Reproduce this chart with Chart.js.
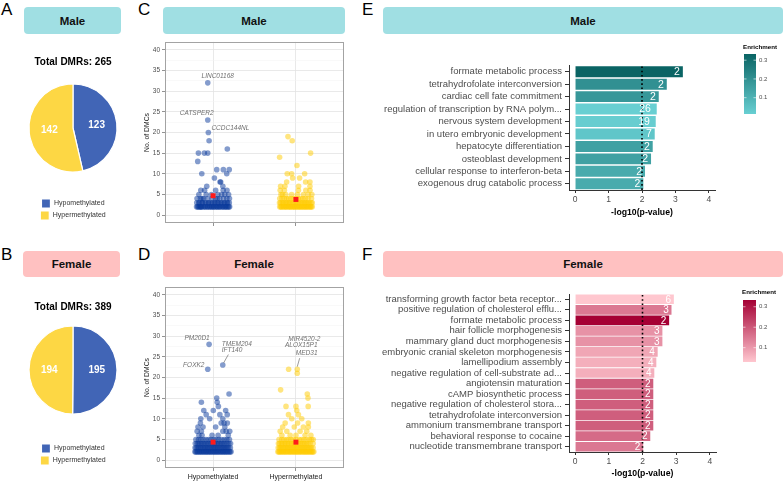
<!DOCTYPE html>
<html><head><meta charset="utf-8">
<script src="https://cdn.jsdelivr.net/npm/chart.js@4.4.0/dist/chart.umd.min.js"></script>
<style>
html,body{margin:0;padding:0;background:#fff;}
#root{position:relative;width:784px;height:483px;overflow:hidden;font-family:"Liberation Sans",Arial,sans-serif;}
.box{position:absolute;}
.letter{position:absolute;font-size:17px;color:#000;line-height:1;}
.hdr{position:absolute;border-radius:4px;display:flex;align-items:center;justify-content:center;font-weight:bold;font-size:11.5px;color:#111;}
.male{background:#A0DFE3;} .female{background:#FFC1C1;}
canvas{display:block;}
</style></head><body><div id="root">
<div class="letter" style="left:1px;top:1px">A</div>
<div class="letter" style="left:1px;top:246px">B</div>
<div class="letter" style="left:138px;top:1px">C</div>
<div class="letter" style="left:138px;top:246px">D</div>
<div class="letter" style="left:362px;top:1px">E</div>
<div class="letter" style="left:362px;top:246px">F</div>
<div class="hdr male" style="left:24px;top:7px;width:97px;height:27px">Male</div>
<div class="hdr female" style="left:23px;top:251px;width:97px;height:26px">Female</div>
<div class="hdr male" style="left:163px;top:7px;width:182px;height:27px">Male</div>
<div class="hdr female" style="left:163px;top:251px;width:182px;height:26px">Female</div>
<div class="hdr male" style="left:383px;top:7px;width:400px;height:27px">Male</div>
<div class="hdr female" style="left:383px;top:251px;width:400px;height:26px">Female</div>
<div class="box" style="left:23px;top:44px"><canvas id="pieA" width="100" height="186"></canvas></div>
<div class="box" style="left:23px;top:289px"><canvas id="pieB" width="100" height="186"></canvas></div>
<div class="box" style="left:140px;top:36px"><canvas id="scatC" width="210" height="200"></canvas></div>
<div class="box" style="left:140px;top:281px"><canvas id="scatD" width="210" height="200"></canvas></div>
<div class="box" style="left:370px;top:40px"><canvas id="barE" width="414" height="183"></canvas></div>
<div class="box" style="left:370px;top:268px"><canvas id="barF" width="414" height="215"></canvas></div>
</div>
<script>
// ---------------- DATA ----------------
const methylGroups = ['Hypomethylated', 'Hypermethylated'];
const maleDMRs = [123, 142];
const femaleDMRs = [195, 194];

// [horizontal jitter, No. of DMCs]
const maleHypoPoints = [[-0.064,32],[-0.064,23],[-0.057,20],[-0.048,18],[0.172,16],[-0.177,15],[-0.105,15],[-0.064,15],[-0.185,13],
 [0.044,11],[0.124,11],[0.195,11],[-0.136,10],[0.165,10],[0.016,9],[0.084,8],[0.092,8],[-0.076,7],[0.118,7],
 [-0.102,6],[0.031,6],[0.122,6],[0.168,6],[-0.148,6],
 [-0.171,5],[-0.083,5],[-0.019,5],[0.058,5],[0.103,5],[0.187,5],[0.141,5],
 [-0.193,4],[-0.152,4],[-0.114,4],[-0.063,4],[-0.012,4],[0.029,4],[0.081,4],[0.127,4],[0.166,4],[0.198,4],[-0.131,4],[0.052,4],
 [-0.197,3],[-0.172,3],[-0.165,3],[-0.134,3],[-0.127,3],[-0.098,3],[-0.086,3],[-0.057,3],[-0.049,3],[-0.022,3],[-0.006,3],[0.019,3],[0.027,3],[0.055,3],[0.064,3],[0.093,3],[0.101,3],[0.131,3],[0.139,3],[0.167,3],[0.176,3],[0.196,3],
 [-0.199,2],[-0.186,2],[-0.175,2],[-0.161,2],[-0.143,2],[-0.138,2],[-0.119,2],[-0.101,2],[-0.094,2],[-0.071,2],[-0.066,2],[-0.044,2],[-0.037,2],[-0.018,2],[-0.011,2],[0.006,2],[0.014,2],[0.032,2],[0.047,2],[0.053,2],[0.074,2],[0.079,2],[0.096,2],[0.115,2],[0.121,2],[0.142,2],[0.149,2],[0.163,2],[0.177,2],[0.189,2],[0.2,2],[-0.152,2]];
const maleHyperPoints = [[-0.096,19],[-0.045,18],[0.177,15],[-0.197,14],[0.012,12],[-0.105,10],[-0.052,10],[0.105,10],[-0.04,9],[0.044,9],
 [-0.112,8],[0.117,8],[0.169,8],[-0.185,7],[-0.133,7],[0.032,7],[0.169,7],[-0.19,6],[-0.14,6],[0.03,6],[0.12,6],[0.17,6],
 [-0.181,5],[-0.123,5],[-0.052,5],[0.018,5],[0.091,5],[0.148,5],[0.192,5],[-0.162,5],
 [-0.195,4],[-0.168,4],[-0.141,4],[-0.112,4],[-0.087,4],[-0.058,4],[-0.031,4],[-0.004,4],[0.027,4],[0.056,4],[0.083,4],[0.114,4],[0.146,4],[0.188,4],
 [-0.198,3],[-0.184,3],[-0.163,3],[-0.152,3],[-0.129,3],[-0.118,3],[-0.096,3],[-0.081,3],[-0.068,3],[-0.043,3],[-0.031,3],[-0.009,3],[0.004,3],[0.026,3],[0.038,3],[0.061,3],[0.073,3],[0.097,3],[0.108,3],[0.127,3],[0.144,3],[0.161,3],[0.183,3],[0.197,3],
 [-0.196,2],[-0.181,2],[-0.177,2],[-0.158,2],[-0.149,2],[-0.133,2],[-0.12,2],[-0.117,2],[-0.094,2],[-0.088,2],[-0.071,2],[-0.066,2],[-0.049,2],[-0.038,2],[-0.024,2],[-0.019,2],[-0.003,2],[0.011,2],[0.018,2],[0.036,2],[0.042,2],[0.055,2],[0.069,2],[0.077,2],[0.092,2],[0.104,2],[0.113,2],[0.128,2],[0.137,2],[0.151,2],[0.163,2],[0.176,2],[0.184,2],[0.197,2]];
const femaleHypoPoints = [[-0.048,28],[0.117,23],[-0.064,22],[0.193,16],[0.044,15],[-0.141,14],[0.05,14],[0.064,13],[-0.112,12],[0.003,12],[0.152,12],
 [-0.083,11],[0.082,11],[0.171,11],[-0.148,10],[-0.041,10],[0.118,10],[-0.153,9],[0.098,9],[0.172,9],[0.133,9],
 [-0.182,8],[-0.121,8],[0.031,8],[0.142,8],[-0.192,7],[-0.141,7],[0.118,7],[0.158,7],[0.201,7],[-0.133,6],[-0.012,6],[0.061,6],[0.183,6],[-0.171,6],
 [-0.207,5],[-0.176,5],[-0.149,5],[-0.118,5],[-0.087,5],[-0.054,5],[-0.027,5],[0.009,5],[0.036,5],[0.071,5],[0.102,5],[0.137,5],[0.166,5],[0.198,5],
 [-0.214,4],[-0.193,4],[-0.177,4],[-0.158,4],[-0.139,4],[-0.121,4],[-0.103,4],[-0.082,4],[-0.064,4],[-0.046,4],[-0.023,4],[-0.007,4],[0.014,4],[0.033,4],[0.052,4],[0.069,4],[0.091,4],[0.108,4],[0.127,4],[0.146,4],[0.168,4],[0.189,4],[0.211,4],
 [-0.217,3],[-0.203,3],[-0.184,3],[-0.172,3],[-0.151,3],[-0.143,3],[-0.121,3],[-0.107,3],[-0.094,3],[-0.076,3],[-0.063,3],[-0.045,3],[-0.032,3],[-0.014,3],[0.002,3],[0.019,3],[0.029,3],[0.049,3],[0.06,3],[0.081,3],[0.093,3],[0.112,3],[0.124,3],[0.143,3],[0.155,3],[0.174,3],[0.188,3],[0.209,3],
 [-0.219,2],[-0.208,2],[-0.194,2],[-0.185,2],[-0.169,2],[-0.16,2],[-0.145,2],[-0.136,2],[-0.119,2],[-0.111,2],[-0.095,2],[-0.083,2],[-0.074,2],[-0.057,2],[-0.049,2],[-0.033,2],[-0.024,2],[-0.008,2],[0.004,2],[0.015,2],[0.03,2],[0.039,2],[0.055,2],[0.064,2],[0.079,2],[0.092,2],[0.103,2],[0.118,2],[0.128,2],[0.143,2],[0.152,2],[0.168,2],[0.177,2],[0.193,2],[0.205,2],[0.217,2]];
const femaleHyperPoints = [[-0.088,22],[0.016,22],[0.016,21],[-0.185,17],[0.137,16],[0.145,15],[-0.12,13],[0.0,13],[0.148,13],[0.01,12],[-0.09,11],[0.03,11],[-0.05,10],[0.07,10],[-0.13,9],[0.02,9],[0.15,9],[-0.16,8],[-0.02,8],[0.09,8],[0.15,8],[-0.19,7],[-0.11,7],[0.05,7],[0.13,7],[-0.17,6],[-0.07,6],[0.0,6],[0.11,6],[0.18,6],
 [-0.204,5],[-0.171,5],[-0.146,5],[-0.113,5],[-0.091,5],[-0.058,5],[-0.031,5],[0.004,5],[0.041,5],[0.066,5],[0.098,5],[0.129,5],[0.162,5],[0.189,5],[0.209,5],
 [-0.211,4],[-0.196,4],[-0.174,4],[-0.161,4],[-0.137,4],[-0.124,4],[-0.101,4],[-0.087,4],[-0.062,4],[-0.049,4],[-0.026,4],[-0.009,4],[0.011,4],[0.029,4],[0.048,4],[0.072,4],[0.089,4],[0.106,4],[0.131,4],[0.149,4],[0.171,4],[0.208,4],
 [-0.214,3],[-0.199,3],[-0.186,3],[-0.168,3],[-0.155,3],[-0.139,3],[-0.126,3],[-0.104,3],[-0.097,3],[-0.078,3],[-0.066,3],[-0.044,3],[-0.035,3],[-0.017,3],[-0.002,3],[0.014,3],[0.027,3],[0.046,3],[0.058,3],[0.077,3],[0.091,3],[0.109,3],[0.122,3],[0.139,3],[0.154,3],[0.173,3],[0.186,3],[0.207,3],
 [-0.218,2],[-0.206,2],[-0.197,2],[-0.182,2],[-0.173,2],[-0.157,2],[-0.148,2],[-0.133,2],[-0.122,2],[-0.108,2],[-0.096,2],[-0.081,2],[-0.071,2],[-0.058,2],[-0.046,2],[-0.031,2],[-0.021,2],[-0.007,2],[0.005,2],[0.017,2],[0.028,2],[0.043,2],[0.052,2],[0.067,2],[0.081,2],[0.093,2],[0.106,2],[0.117,2],[0.131,2],[0.142,2],[0.156,2],[0.167,2],[0.181,2],[0.193,2],[0.204,2],[0.216,2]];
const maleMeans = [4.7, 3.8];
const femaleMeans = [4.35, 4.35];
const dmcTicks = [0, 5, 10, 15, 20, 25, 30, 35, 40];
const dmcMinorTicks = [2.5, 7.5, 12.5, 17.5, 22.5, 27.5, 32.5, 37.5];

const maleTerms = ['formate metabolic process','tetrahydrofolate interconversion','cardiac cell fate commitment','regulation of transcription by RNA polym...','nervous system development','in utero embryonic development','hepatocyte differentiation','osteoblast development','cellular response to interferon-beta','exogenous drug catabolic process'];
const maleLogP = [3.22, 2.74, 2.50, 2.44, 2.41, 2.38, 2.32, 2.27, 2.09, 2.04];
const maleGeneCounts = [2, 2, 2, 26, 19, 7, 2, 2, 2, 2];
const maleEnrichment = [0.333, 0.2, 0.18, 0.013, 0.018, 0.04, 0.15, 0.15, 0.12, 0.12];

const femaleTerms = ['transforming growth factor beta receptor...','positive regulation of cholesterol efflu...','formate metabolic process','hair follicle morphogenesis','mammary gland duct morphogenesis','embryonic cranial skeleton morphogenesis','lamellipodium assembly','negative regulation of cell-substrate ad...','angiotensin maturation','cAMP biosynthetic process','negative regulation of cholesterol stora...','tetrahydrofolate interconversion','ammonium transmembrane transport','behavioral response to cocaine','nucleotide transmembrane transport'];
const femaleLogP = [2.93, 2.86, 2.79, 2.59, 2.59, 2.45, 2.41, 2.35, 2.32, 2.32, 2.32, 2.32, 2.32, 2.23, 2.02];
const femaleGeneCounts = [6, 3, 2, 3, 3, 4, 4, 4, 2, 2, 2, 2, 2, 2, 2];
const femaleEnrichment = [0.03, 0.15, 0.333, 0.11, 0.11, 0.08, 0.067, 0.067, 0.19, 0.19, 0.19, 0.19, 0.19, 0.17, 0.15];

const logPTicks = [0, 1, 2, 3, 4];
const enrichTicks = [0.1, 0.2, 0.3];
const significanceLine = 2;

// ---------------- STYLE / HELPERS ----------------
const FONT = '"Liberation Sans", Arial, sans-serif';
Chart.defaults.font.family = FONT;
const BLUE = '#4165B6', YELLOW = '#FDD744';

function hexToRgb(h){h=h.replace('#','');return [0,2,4].map(i=>parseInt(h.substr(i,2),16));}
function mix(lo, hi, t){t=Math.max(0,Math.min(1,t));const a=hexToRgb(lo),b=hexToRgb(hi);return 'rgb('+a.map((v,i)=>Math.round(v+(b[i]-v)*t)).join(',')+')';}

const sliceLabels = {
  id:'sliceLabels',
  afterDatasetsDraw(chart){
    const ctx=chart.ctx, meta=chart.getDatasetMeta(0), ds=chart.data.datasets[0];
    ctx.save(); ctx.font='bold 10px '+FONT; ctx.fillStyle='#fff'; ctx.textAlign='center'; ctx.textBaseline='middle';
    meta.data.forEach((arc,i)=>{
      const a=(arc.startAngle+arc.endAngle)/2, r=arc.outerRadius*0.54;
      ctx.fillText(String(ds.data[i]), arc.x+Math.cos(a)*r, arc.y+Math.sin(a)*r);
    });
    ctx.restore();
  }
};

function pieChart(id, values, spacer){
  const total = values.reduce((s,v)=>s+v,0);
  new Chart(document.getElementById(id), {
    type:'pie',
    data:{labels:methylGroups, datasets:[{data:values, backgroundColor:[BLUE,YELLOW], borderColor:'#fff', borderWidth:1.2, radius:44}]},
    options:{responsive:false, animation:false,
      plugins:{
        title:{display:true, text:'Total DMRs: '+total, color:'#000', font:{size:10, weight:'bold'}, padding:{top:12,bottom:0}},
        legend:{position:'bottom', align:'center', title:{display:true, text:' ', font:{size:1}, padding:spacer},
          labels:{boxWidth:9, boxHeight:9, padding:3, color:'#333', font:{size:7}}},
        tooltip:{enabled:false}
      }},
    plugins:[sliceLabels]
  });
}

const framePlugin = {
  id:'frame',
  afterDatasetsDraw(chart){
    const a=chart.chartArea, ctx=chart.ctx;
    ctx.save(); ctx.strokeStyle='#A3A3A3'; ctx.lineWidth=1;
    ctx.strokeRect(Math.round(a.left)+0.5, Math.round(a.top)+0.5, Math.round(a.right-a.left)-1, Math.round(a.bottom-a.top)-1);
    ctx.restore();
  }
};
const geneLabels = {
  id:'geneLabels',
  afterDatasetsDraw(chart, args, opts){
    const ctx=chart.ctx;
    ctx.save(); ctx.font='italic 6.5px '+FONT; ctx.fillStyle='#707070'; ctx.strokeStyle='#707070'; ctx.lineWidth=0.7; ctx.textBaseline='middle';
    (opts.items||[]).forEach(it=>{
      const p=chart.getDatasetMeta(it.ds).data[it.idx];
      ctx.textAlign=it.align||'center';
      ctx.fillText(it.text, p.x+it.dx, p.y+it.dy);
      if(it.line){ctx.beginPath();ctx.moveTo(p.x+it.line[0],p.y+it.line[1]);ctx.lineTo(p.x+it.line[2],p.y+it.line[3]);ctx.stroke();}
    });
    ctx.restore();
  }
};
const isMajor = c => c.tick && dmcTicks.includes(c.tick.value);

function scatterChart(id, hypo, hyper, means, showX, labels){
  const toXY=(pts,cat)=>pts.map(p=>({x:cat+p[0], y:p[1]}));
  new Chart(document.getElementById(id), {
    type:'scatter',
    data:{datasets:[
      {data:toXY(hypo,1), backgroundColor:'rgba(10,58,155,0.5)', borderWidth:0, pointRadius:2.8, order:2},
      {data:toXY(hyper,2), backgroundColor:'rgba(255,204,0,0.5)', borderWidth:0, pointRadius:2.8, order:1},
      {data:means.map((m,i)=>({x:i+1,y:m})), pointStyle:'rect', backgroundColor:'#FF1A1A', borderWidth:0, pointRadius:3.5, order:0}
    ]},
    options:{responsive:false, animation:false,
      layout:{padding:{top:3,right:6,left:0,bottom:0}},
      plugins:{legend:{display:false}, tooltip:{enabled:false}, geneLabels:{items:labels}},
      scales:{
        x:{type:'linear', min:0.42, max:2.58,
          afterBuildTicks:ax=>{ax.ticks=[1,2].map(v=>({value:v}));},
          afterFit:s=>{s.height=13;},
          ticks:{autoSkip:false, maxRotation:0, padding:1.8, font:{size:7}, color:'#1A1A1A', callback:v=>showX?methylGroups[v-1]:''},
          grid:{color:'#E3E3E3', lineWidth:0.8, tickLength:3, tickColor:'#777'},
          border:{display:false}},
        y:{type:'linear', min:-1.9, max:41.9,
          afterBuildTicks:ax=>{ax.ticks=dmcTicks.concat(dmcMinorTicks).sort((a,b)=>a-b).map(v=>({value:v}));},
          afterFit:s=>{s.width=25;},
          ticks:{autoSkip:false, padding:2, font:{size:6.5}, color:'#4D4D4D', callback:v=>dmcTicks.includes(v)?String(v):''},
          grid:{color:c=>isMajor(c)?'#E3E3E3':'#F2F2F2', lineWidth:c=>isMajor(c)?0.8:0.5, tickLength:3, tickColor:c=>isMajor(c)?'#777':'rgba(0,0,0,0)'},
          border:{display:false},
          title:{display:true, text:'No. of DMCs', color:'#1A1A1A', font:{size:6.8}, padding:{top:3,bottom:0}}}
      }},
    plugins:[framePlugin, geneLabels]
  });
}

const sigLinePlugin = {
  id:'sigLine',
  afterDatasetsDraw(chart){
    const a=chart.chartArea, ctx=chart.ctx, x=chart.scales.x.getPixelForValue(significanceLine);
    ctx.save(); ctx.strokeStyle='#000'; ctx.lineWidth=1.6; ctx.setLineDash([1.6,2.6]);
    ctx.beginPath(); ctx.moveTo(x,a.top+1); ctx.lineTo(x,a.bottom); ctx.stroke(); ctx.restore();
  }
};
const barValues = {
  id:'barValues',
  afterDatasetsDraw(chart, args, opts){
    const ctx=chart.ctx, meta=chart.getDatasetMeta(0);
    ctx.save(); ctx.font=opts.size+'px '+FONT; ctx.fillStyle='#fff'; ctx.textAlign='center'; ctx.textBaseline='middle';
    meta.data.forEach((bar,i)=>{const t=String(opts.counts[i]); const w=ctx.measureText(t).width; ctx.fillText(t, bar.x-w, bar.y+0.5);});
    ctx.restore();
  }
};
const colorBar = {
  id:'colorBar',
  afterDraw(chart, args, o){
    const ctx=chart.ctx;
    const vmin=Math.min(...o.values), vmax=Math.max(...o.values);
    const g=ctx.createLinearGradient(0,o.y+o.h,0,o.y);
    for(let k=0;k<=10;k++) g.addColorStop(k/10, mix(o.low,o.high,k/10));
    ctx.save();
    ctx.fillStyle=g; ctx.fillRect(o.x,o.y,o.w,o.h);
    ctx.font='bold 6.2px '+FONT; ctx.fillStyle='#000'; ctx.textAlign='left'; ctx.textBaseline='alphabetic';
    ctx.fillText('Enrichment', o.x-1, o.y+o.titleDy);
    ctx.font='6px '+FONT; ctx.fillStyle='#4D4D4D'; ctx.textBaseline='middle';
    ctx.strokeStyle='#fff'; ctx.lineWidth=0.6;
    enrichTicks.forEach(v=>{
      const y=o.y+o.h*(vmax-v)/(vmax-vmin);
      ctx.beginPath(); ctx.moveTo(o.x,y); ctx.lineTo(o.x+2.5,y); ctx.moveTo(o.x+o.w-2.5,y); ctx.lineTo(o.x+o.w,y); ctx.stroke();
      ctx.fillText(String(v), o.x+o.w+3, y);
    });
    ctx.restore();
  }
};

function barChart(id, terms, logp, counts, enrich, low, high, cfg){
  const vmin=Math.min(...enrich), vmax=Math.max(...enrich);
  const colors=enrich.map(e=>mix(low,high,(e-vmin)/(vmax-vmin)));
  new Chart(document.getElementById(id), {
    type:'bar',
    data:{labels:terms, datasets:[{data:logp, backgroundColor:colors, borderWidth:0, categoryPercentage:cfg.cp, barPercentage:1}]},
    options:{indexAxis:'y', responsive:false, animation:false,
      layout:{padding:{top:cfg.padTop, right:cfg.padRight, left:0, bottom:0}},
      plugins:{legend:{display:false}, tooltip:{enabled:false},
        barValues:{counts:counts, size:cfg.labelSize},
        colorBar:Object.assign({values:enrich, low:low, high:high}, cfg.bar)},
      scales:{
        x:{type:'linear', min:-0.18, max:4.18,
          afterBuildTicks:ax=>{ax.ticks=logPTicks.map(v=>({value:v}));},
          afterFit:s=>{s.height=cfg.xH;},
          ticks:{font:{size:8.5}, color:'#4D4D4D', padding:cfg.xTickPad},
          grid:{drawOnChartArea:false, drawTicks:true, tickLength:3, tickColor:'#333', color:'#333'},
          border:{display:true, color:'#333', width:1},
          title:{display:true, text:'-log10(p-value)', color:'#000', font:{size:8.7, weight:'bold'}, padding:{top:0,bottom:cfg.titlePad}}},
        y:{afterFit:s=>{s.width=199;},
          ticks:{autoSkip:false, font:{size:9.5}, color:'#4D4D4D', padding:3},
          grid:{offset:false, drawOnChartArea:false, drawTicks:true, tickLength:4, tickColor:'#333', color:'#333'},
          border:{display:true, color:'#333', width:1}}
      }},
    plugins:[sigLinePlugin, barValues, colorBar]
  });
}

// ---------------- BUILD ----------------
pieChart('pieA', maleDMRs, 3.4);
pieChart('pieB', femaleDMRs, 6.4);

scatterChart('scatC', maleHypoPoints, maleHyperPoints, maleMeans, false, [
  {ds:0, idx:0, text:'LINC01168', dx:10, dy:-7},
  {ds:0, idx:1, text:'CATSPER2', dx:-11, dy:-7},
  {ds:0, idx:2, text:'CCDC144NL', dx:22, dy:-4}
]);
scatterChart('scatD', femaleHypoPoints, femaleHyperPoints, femaleMeans, true, [
  {ds:0, idx:0, text:'PM20D1', dx:-12, dy:-6},
  {ds:0, idx:2, text:'FOXK2', dx:-14, dy:-4},
  {ds:0, idx:1, text:'TMEM204', dx:-1, dy:-21, align:'left'},
  {ds:0, idx:1, text:'IFT140', dx:-1, dy:-14.4, align:'left', line:[5.6,-10.5,0.8,-2]},
  {ds:1, idx:0, text:'MIR4520-2', dx:15.7, dy:-30},
  {ds:1, idx:2, text:'ALOX15P1', dx:4, dy:-27.7},
  {ds:1, idx:1, text:'MED31', dx:9.4, dy:-15.6, line:[2.4,-11,0,-2.5]}
]);

barChart('barE', maleTerms, maleLogP, maleGeneCounts, maleEnrichment, '#68CFD2', '#0A6464',
  {cp:0.88, padTop:25.5, padRight:69, xH:33, xTickPad:1.9, titlePad:4.8, labelSize:10.5,
   bar:{x:374, y:14, w:12, h:60, titleDy:-5}});
barChart('barF', femaleTerms, femaleLogP, femaleGeneCounts, femaleEnrichment, '#FFC7CF', '#A50034',
  {cp:0.92, padTop:26, padRight:68, xH:31, xTickPad:1.6, titlePad:4.5, labelSize:10,
   bar:{x:373, y:32, w:13, h:62, titleDy:-6}});
</script>
</body></html>
